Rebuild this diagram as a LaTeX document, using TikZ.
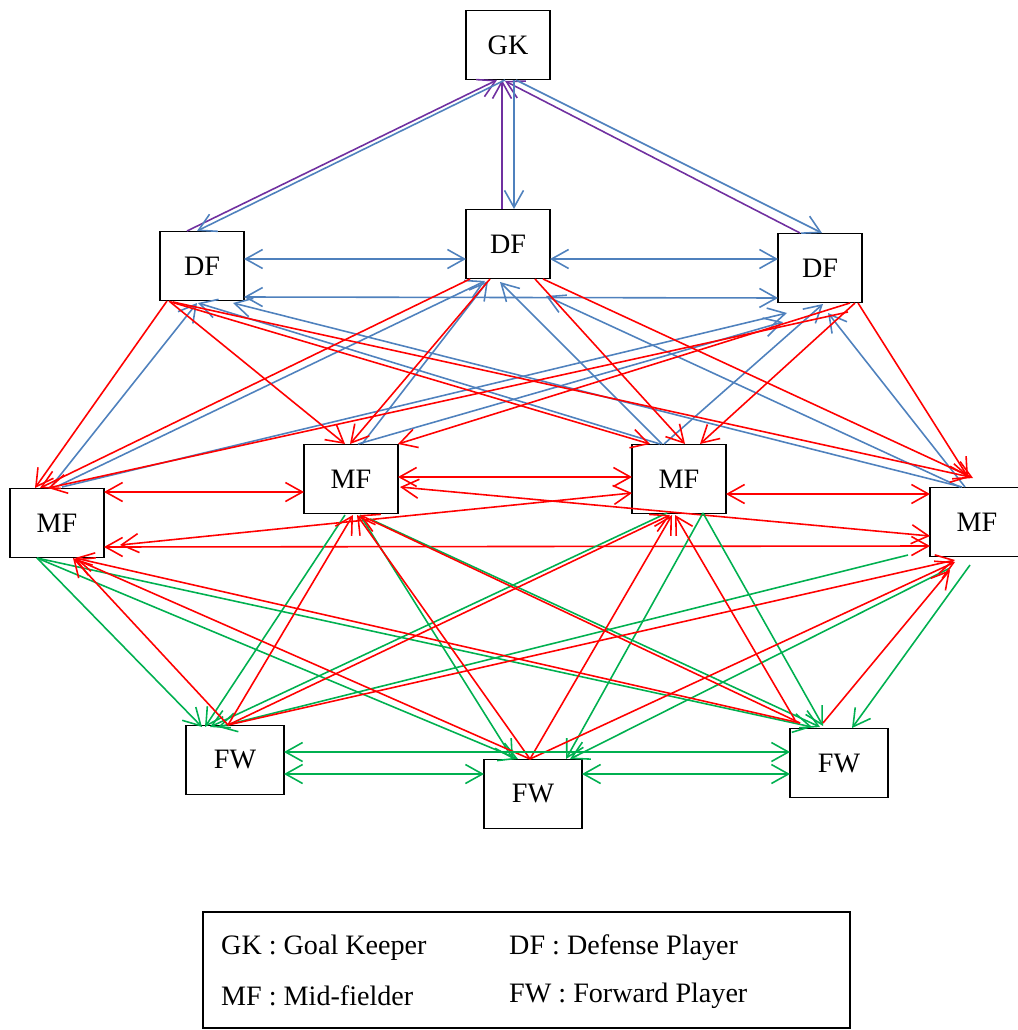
\documentclass[tikz,border=0pt]{standalone}
\usepackage{fontspec}
\setmainfont{Liberation Serif}
\usepackage{xcolor}
\usepackage{tikz}
\usetikzlibrary{arrows.meta}
\usetikzlibrary{calc}
\definecolor{gkpurple}{RGB}{112,48,160}
\definecolor{dfblue}{RGB}{79,129,189}
\definecolor{fwgreen}{RGB}{0,176,80}
\tikzset{%
  player/.style={rectangle, draw=black, line width=1.1pt, fill=white, minimum width=1.68cm, minimum height=1.38cm, font=\fontsize{16}{19}\selectfont},
  midplayer/.style={player, minimum width=1.88cm},
  fwplayer/.style={player, minimum width=1.96cm},
  % passes, coloured by line
  keeperpass/.style={gkpurple, line width=0.9pt, ->},
  defpass/.style={dfblue, line width=0.9pt},
  midpass/.style={red, line width=0.9pt},
  fwpass/.style={fwgreen, line width=0.9pt},
  legendtext/.style={anchor=west, font=\fontsize{16}{19}\selectfont}
}
\begin{document}
\begin{tikzpicture}[x=0.02cm, y=-0.02cm, >={Straight Barb[length=3.4mm,width=3.8mm]}]
    \useasboundingbox (0,0) rectangle (1017,1030);

    %Nodes
    \node[player] (gk) at (508,45) {GK};
    \node[player] (df1) at (202,266) {DF};
    \node[player] (df2) at (508,244) {DF};
    \node[player] (df3) at (820,268) {DF};
    \node[midplayer] (mf1) at (57,523) {MF};
    \node[midplayer] (mf2) at (351,479) {MF\hspace{4pt}};
    \node[midplayer] (mf3) at (679,479) {MF\hspace{4pt}};
    \node[midplayer] (mf4) at (977,522) {MF\hspace{6pt}};
    \node[fwplayer] (fw1) at (235,760) {FW\hspace{5pt}};
    \node[fwplayer] (fw2) at (533,794) {FW\hspace{7pt}};
    \node[fwplayer] (fw3) at (839,763) {FW\hspace{8pt}};

    %Legend
    \node[rectangle, draw=black, line width=0.9pt, minimum width=12.94cm, minimum height=2.32cm] (legend) at (526.5,970) {};
    \node[legendtext] (lgk) at (215,948) {GK : Goal Keeper};
    \node[legendtext] (ldf) at (503,948) {DF : Defense Player};
    \node[legendtext] (lmf) at (215,996) {MF : Mid-fielder};
    \node[legendtext] (lfw) at (503,996) {FW : Forward Player};

    %Lines GK
    \draw[keeperpass] ($(df1)+(-15,-35)$) -- ($(gk)+(-11,35)$);
    \draw[keeperpass] ($(df2)+(-6,-35)$) -- ($(gk)+(-6,35)$);
    \draw[keeperpass] ($(df3)+(-20,-35)$) -- ($(gk)+(-3,36)$);
    \draw[defpass,->] ($(gk)+(-3,35)$) -- ($(df1)+(-5,-35)$);
    \draw[defpass,->] ($(gk)+(6,35)$) -- ($(df2)+(6,-35)$);
    \draw[defpass,->] ($(gk)+(8,35)$) -- ($(df3)+(2,-35)$);

    %Lines DF
    \draw[defpass,<->] ($(df1)+(42,-7)$) -- ($(df2)+(-42,15)$);
    \draw[defpass,<->] ($(df2)+(42,15)$) -- ($(df3)+(-42,-9)$);
    \draw[defpass,<->] ($(df1)+(42,31)$) -- ($(df3)+(-42,30)$);
    \foreach \a/\ax/\ay/\b/\bx/\by in {
        mf1/-7/-35/df1/-5/37, mf1/1/-37/df2/-23/37, mf1/5/-36/df3/-33/45,
        mf2/7/-35/df3/-37/54, mf2/11/-35/df2/-20/37,
        mf3/-19/-35/df1/-4/37, mf3/-17/-35/df2/-8/38, mf3/-15/-35/df3/3/36,
        mf4/-15/-35/df1/31/37, mf4/-17/-35/df2/38/52, mf4/-12/-35/df3/8/45}
      \draw[defpass,->] ($(\a)+(\ax,\ay)$) -- ($(\b)+(\bx,\by)$);
    \foreach \a/\ax/\ay/\b/\bx/\by in {
        df1/-35/35/mf1/-22/-35, df1/-33/35/mf2/-6/-35, df1/-31/36/mf3/-29/-35, df1/-29/36/mf4/-7/-45,
        df2/-38/35/mf1/-17/-35, df2/-18/35/mf2/-1/-35, df2/27/35/mf3/6/-35, df2/35/35/mf4/-4/-44,
        df3/28/44/mf1/-9/-35, df3/30/35/mf2/47/-35, df3/35/35/mf3/21/-35, df3/38/35/mf4/-9/-45}
      \draw[midpass,->] ($(\a)+(\ax,\ay)$) -- ($(\b)+(\bx,\by)$);

    %Lines MF
    \draw[midpass,<->] ($(mf1)+(47,-31)$) -- ($(mf2)+(-47,13)$);
    \draw[midpass,<->] ($(mf2)+(47,-2)$) -- ($(mf3)+(-47,-2)$);
    \draw[midpass,<->] ($(mf3)+(47,15)$) -- ($(mf4)+(-47,-28)$);
    \draw[midpass,<->] ($(mf1)+(47,24)$) -- ($(mf4)+(-47,24)$);
    \draw[midpass,<->] ($(mf2)+(49,8)$) -- ($(mf4)+(-47,14)$);
    \draw[midpass,<->] ($(mf1)+(63,22)$) -- ($(mf3)+(-47,14)$);
    \foreach \a/\ax/\ay/\b/\bx/\by in {
        mf1/-20/35/fw1/-33/-33, mf1/-20/35/fw2/-15/-35, mf1/-20/35/fw3/-27/-36,
        mf2/-6/36/fw1/-30/-33, mf2/9/36/fw2/-20/-35, mf2/19/40/fw3/-19/-36,
        mf3/-12/34/fw1/-25/-33, mf3/24/34/fw2/33/-35, mf3/24/34/fw3/-16/-37,
        mf4/-69/33/fw1/-17/-33, mf4/-27/46/fw2/37/-35, mf4/-7/43/fw3/13/-35}
      \draw[fwpass,->] ($(\a)+(\ax,\ay)$) -- ($(\b)+(\bx,\by)$);
    \foreach \a/\ax/\ay/\b/\bx/\by in {
        fw1/-7/-35/mf1/16/35, fw1/-7/-35/mf2/2/36, fw1/-7/-35/mf3/-9/36, fw1/-7/-35/mf4/-22/38,
        fw2/-3/-35/mf1/18/36, fw2/-3/-35/mf2/6/36, fw2/-3/-35/mf3/-7/36, fw2/-3/-35/mf4/-22/40,
        fw3/-39/-40/mf1/18/35, fw3/-39/-40/mf2/9/36, fw3/-44/-43/mf3/-4/36, fw3/-16/-40/mf4/-27/48}
      \draw[midpass,->] ($(\a)+(\ax,\ay)$) -- ($(\b)+(\bx,\by)$);

    %Lines FW
    \draw[fwpass,<->] ($(fw1)+(49,-8)$) -- ($(fw3)+(-49,-11)$);
    \draw[fwpass,<->] ($(fw1)+(49,14)$) -- ($(fw2)+(-49,-20)$);
    \draw[fwpass,<->] ($(fw2)+(49,-20)$) -- ($(fw3)+(-49,11)$);
\end{tikzpicture}
\end{document}
